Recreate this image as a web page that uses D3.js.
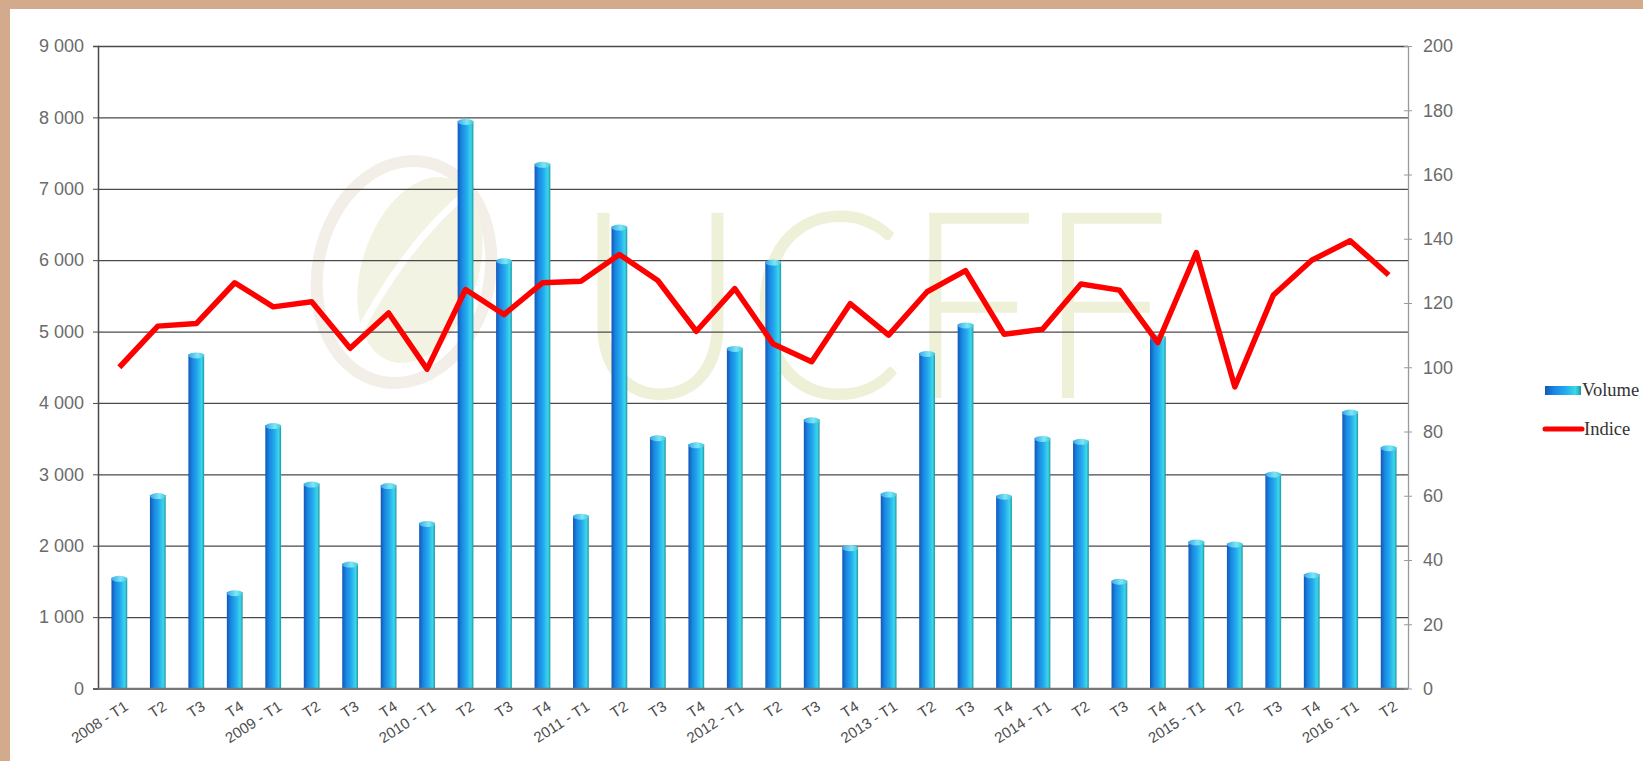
<!DOCTYPE html>
<html>
<head>
<meta charset="utf-8">
<script src="https://cdn.jsdelivr.net/npm/d3@7"></script>
<style>
  html, body { margin: 0; padding: 0; background: #fff; }
  svg { display: block; }
</style>
</head>
<body>
<script>
// quarters, volumes (left axis) and index (right axis)
const quarters = [
  "2008 - T1", "T2", "T3", "T4",
  "2009 - T1", "T2", "T3", "T4",
  "2010 - T1", "T2", "T3", "T4",
  "2011 - T1", "T2", "T3", "T4",
  "2012 - T1", "T2", "T3", "T4",
  "2013 - T1", "T2", "T3", "T4",
  "2014 - T1", "T2", "T3", "T4",
  "2015 - T1", "T2", "T3", "T4",
  "2016 - T1", "T2"
];
const volume = [
  1550, 2710, 4680, 1350, 3690, 2870, 1750, 2850, 2320, 7950, 6000, 7350,
  2420, 6470, 3520, 3420, 4770, 5980, 3770, 1980, 2730, 4700, 5100, 2700,
  3510, 3470, 1510, 4930, 2060, 2030, 3010, 1600, 3880, 3380
];
const indice = [
  100, 112.8, 113.6, 126.3, 118.8, 120.4, 105.9, 116.9, 99.4, 124.2, 116.4, 126.3,
  126.8, 135.1, 127, 111.2, 124.5, 107.2, 101.7, 119.8, 110, 123.5, 130.1, 110.3,
  111.8, 125.9, 124, 107.7, 135.7, 93.9, 122.4, 133.3, 139.4, 128.7
];
const leftTicks = d3.range(0, 9001, 1000);
const rightTicks = d3.range(0, 201, 20);
const seriesNames = ["Volume", "Indice"];

const W = 1643, H = 761;
const plotLeft = 98, plotRight = 1408, plotTop = 46, plotBottom = 688.5;

const fr = d3.formatLocale({ decimal: ",", thousands: " ", grouping: [3], currency: ["", " €"] });
const fmt = fr.format(",");

const svg = d3.select("body").append("svg")
  .attr("width", W)
  .attr("height", H);

const defs = svg.append("defs");
const grad = defs.append("linearGradient").attr("id", "barGrad")
  .attr("x1", "0%").attr("x2", "100%").attr("y1", "0%").attr("y2", "0%");
[["0%", "#1257b8"], ["25%", "#1a86e0"], ["55%", "#22a8ee"], ["85%", "#3cd6ea"], ["100%", "#1d96a6"]]
  .forEach(([o, c]) => grad.append("stop").attr("offset", o).attr("stop-color", c));
const capGrad = defs.append("linearGradient").attr("id", "capGrad")
  .attr("x1", "0%").attr("x2", "100%");
[["0%", "#3aa8e8"], ["60%", "#7fe6f6"], ["100%", "#45c8dc"]]
  .forEach(([o, c]) => capGrad.append("stop").attr("offset", o).attr("stop-color", c));

// background frame
svg.append("rect").attr("width", W).attr("height", H).attr("fill", "#fff");
svg.append("rect").attr("width", W).attr("height", 9).attr("fill", "#d4aa8c");
svg.append("rect").attr("width", 10).attr("height", H).attr("fill", "#d4aa8c");

// watermark
const wm = svg.append("g").attr("class", "watermark");
wm.append("ellipse")
  .attr("cx", 404).attr("cy", 272).attr("rx", 86).attr("ry", 112)
  .attr("transform", "rotate(12 404 272)")
  .attr("fill", "none").attr("stroke", "#f4eee8").attr("stroke-width", 12);
wm.append("ellipse")
  .attr("cx", 420).attr("cy", 270).attr("rx", 58).attr("ry", 96)
  .attr("transform", "rotate(18 420 270)")
  .attr("fill", "#f2f3e2");
wm.append("path")
  .attr("d", "M350,350 C380,290 420,230 470,190")
  .attr("fill", "none").attr("stroke", "#fff").attr("stroke-width", 7);
wm.append("text")
  .attr("x", 575).attr("y", 398)
  .attr("textLength", 595).attr("lengthAdjust", "spacingAndGlyphs")
  .attr("font-family", "Lato, Roboto, 'DejaVu Sans', sans-serif")
  .attr("font-weight", 300)
  .attr("font-size", 262)
  .attr("fill", "#eef1d8")
  .text("UCFF");

// scales
const x = d3.scaleBand()
  .domain(d3.range(quarters.length))
  .range([plotLeft, plotRight + 2])
  .paddingInner(0.59)
  .paddingOuter(0.35);
const yL = d3.scaleLinear().domain([0, 9000]).range([plotBottom, plotTop]);
const yR = d3.scaleLinear().domain([0, 200]).range([plotBottom, plotTop]);

// gridlines
svg.append("g")
  .attr("transform", `translate(${plotLeft},0)`)
  .call(d3.axisLeft(yL).tickValues(leftTicks).tickSize(-(plotRight - plotLeft)).tickFormat(""))
  .call(g => g.select(".domain").remove())
  .call(g => g.selectAll("line").attr("stroke", "#4a4a4a").attr("stroke-width", 1.3));

// bars
const bars = svg.append("g");
bars.selectAll("rect")
  .data(volume)
  .join("rect")
  .attr("x", (d, i) => x(i))
  .attr("y", d => yL(d))
  .attr("width", x.bandwidth())
  .attr("height", d => plotBottom - yL(d))
  .attr("fill", "url(#barGrad)");
bars.selectAll("ellipse")
  .data(volume)
  .join("ellipse")
  .attr("cx", (d, i) => x(i) + x.bandwidth() / 2)
  .attr("cy", d => yL(d) + 1)
  .attr("rx", x.bandwidth() / 2)
  .attr("ry", 3)
  .attr("fill", "url(#capGrad)");

// left axis
svg.append("g")
  .attr("transform", `translate(${plotLeft},0)`)
  .call(d3.axisLeft(yL).tickValues(leftTicks).tickSize(5).tickPadding(9).tickFormat(fmt))
  .call(g => g.select(".domain").attr("stroke", "#4a4a4a").attr("stroke-width", 1.5))
  .call(g => g.selectAll("line").attr("stroke", "#4a4a4a"))
  .call(g => g.selectAll("text")
    .attr("fill", "#6b6b6b")
    .attr("font-family", "'Liberation Sans', Arial, sans-serif")
    .attr("font-size", 18));

// bottom baseline
svg.append("line")
  .attr("x1", plotLeft).attr("x2", plotRight)
  .attr("y1", plotBottom).attr("y2", plotBottom)
  .attr("stroke", "#777").attr("stroke-width", 1.5);

// right axis
svg.append("g")
  .attr("transform", `translate(${plotRight},0)`)
  .call(d3.axisRight(yR).tickValues(rightTicks).tickSize(4).tickPadding(11).tickSizeOuter(0))
  .call(g => g.select(".domain").attr("stroke", "#9a9a9a").attr("stroke-width", 1.3))
  .call(g => g.selectAll("line").attr("x1", -4).attr("stroke", "#9a9a9a"))
  .call(g => g.selectAll("text")
    .attr("fill", "#6b6b6b")
    .attr("font-family", "'Liberation Sans', Arial, sans-serif")
    .attr("font-size", 18));

// x labels
svg.append("g")
  .selectAll("text")
  .data(quarters)
  .join("text")
  .attr("transform", (d, i) => `translate(${x(i) + x.bandwidth() / 2 + 5},${plotBottom + 13}) rotate(-33)`)
  .attr("text-anchor", "end")
  .attr("dy", "0.6em")
  .attr("fill", "#4d4d4d")
  .attr("font-family", "'Liberation Sans', Arial, sans-serif")
  .attr("font-size", 15)
  .text(d => d);

// index line
const line = d3.line()
  .x((d, i) => x(i) + x.bandwidth() / 2)
  .y(d => yR(d));
svg.append("path")
  .datum(indice)
  .attr("d", line)
  .attr("fill", "none")
  .attr("stroke", "#ff0000")
  .attr("stroke-width", 5.5)
  .attr("stroke-linejoin", "round");

// legend
const lg = svg.append("g").attr("font-family", "'Liberation Serif', 'Times New Roman', serif")
  .attr("font-size", 18.5).attr("fill", "#333");
lg.append("rect").attr("x", 1545).attr("y", 386).attr("width", 36).attr("height", 9)
  .attr("fill", "url(#barGrad)");
lg.append("text").attr("x", 1582).attr("y", 396).text(seriesNames[0]);
lg.append("line").attr("x1", 1545).attr("x2", 1582).attr("y1", 429).attr("y2", 429)
  .attr("stroke", "#ff0000").attr("stroke-width", 5).attr("stroke-linecap", "round");
lg.append("text").attr("x", 1584).attr("y", 435).text(seriesNames[1]);
</script>
</body>
</html>
